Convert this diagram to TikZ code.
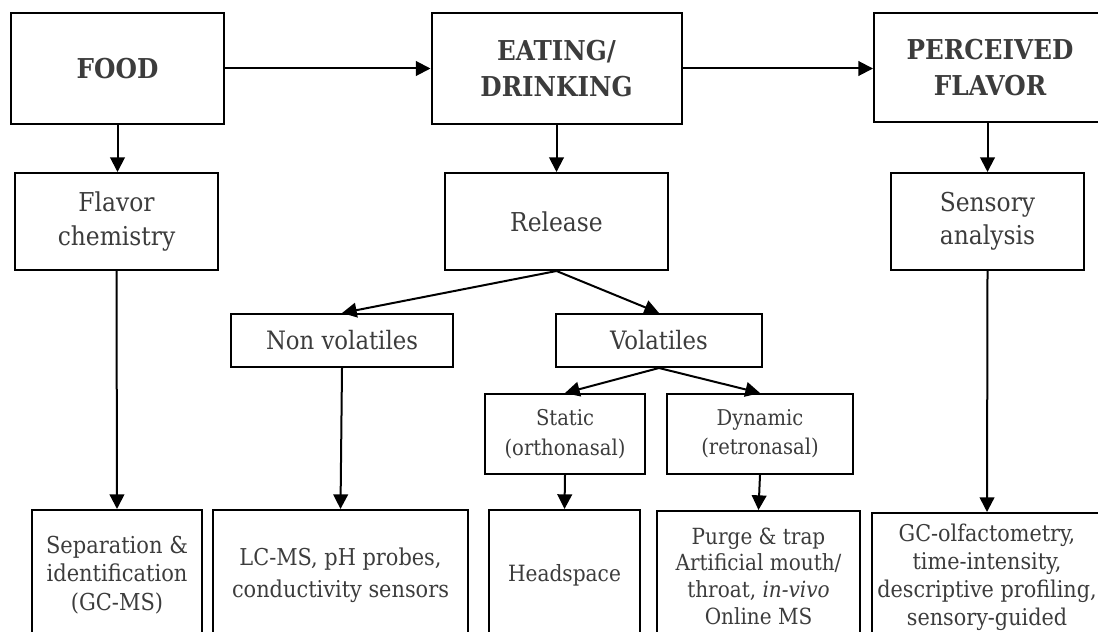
\documentclass[tikz,border=0pt]{standalone}
\usepackage{fontspec}
\setmainfont{DejaVu Serif Condensed}
\usetikzlibrary{arrows.meta}
\definecolor{txt}{RGB}{60,60,60}
\newcommand\ftitle{\fontsize{20.5pt}{27pt}\selectfont\bfseries}
\newcommand\fmid{\fontsize{19.5pt}{25pt}\selectfont}
\newcommand\fvol{\fontsize{19pt}{24pt}\selectfont}
\newcommand\fsm{\fontsize{16.3pt}{22pt}\selectfont}
\begin{document}
\begin{tikzpicture}[x=0.75pt,y=-0.75pt,
  box/.style={draw, line width=1.5pt, inner sep=0pt, text=txt, align=center},
  bx/.style 2 args={minimum width=#1*0.75pt, minimum height=#2*0.75pt},
  arr/.style={-{Triangle[length=11pt,width=11pt]}, line width=1.5pt}]
\useasboundingbox (0,0) rectangle (1098,631);
\clip (0,0) rectangle (1098,631);
% top row
\node[box, bx={213}{111}, font=\ftitle] (food) at (117.5,68.5) {FOOD};
\node[box, bx={250}{111}, font=\ftitle] (eat) at (556.5,68.5) {EATING/\\DRINKING};
\node[box, bx={232}{109}, font=\ftitle] (perc) at (990,67.5) {PERCEIVED\\FLAVOR};
% second row
\node[box, bx={203}{97}, font=\fmid] (flav) at (116.5,221.5) {Flavor\\chemistry};
\node[box, bx={223}{97}, font=\fmid] (rel) at (556.5,221.5) {Release};
\node[box, bx={193}{97}, font=\fmid] (sens) at (987.5,221.5) {Sensory\\analysis};
% third row
\node[box, bx={222}{53}, font=\fvol] (nonv) at (342,340.5) {Non volatiles};
\node[box, bx={206}{53}, font=\fvol] (vol) at (659,340.5) {Volatiles};
\node[box, bx={160}{80}, font=\fsm] (stat) at (565,434) {Static\\(orthonasal)};
\node[box, bx={186}{80}, font=\fsm] (dyn) at (760,434) {Dynamic\\(retronasal)};
% bottom row
\node[box, bx={170}{130}, font=\fontsize{17.5pt}{21.4pt}\selectfont] (sep) at (117,575) {Separation \&\\identification\\(GC-MS)};
\node[box, bx={255}{130}, font=\fontsize{17.4pt}{23.7pt}\selectfont] (lcms) at (340.5,575) {LC-MS, pH probes,\\conductivity sensors};
\node[box, bx={151}{130}, font=\fontsize{16.8pt}{22pt}\selectfont] (head) at (564.5,575) {Headspace};
\node[box, bx={203}{130}, font=\fontsize{16.7pt}{20pt}\selectfont] (purge) at (758.5,576) {Purge \& trap\\Artificial mouth/\\throat, \textit{in-vivo}\\Online MS};
\node[box, bx={230}{128}, font=\fontsize{17.3pt}{21pt}\selectfont] (gc) at (987,577) {GC-olfactometry,\\time-intensity,\\descriptive profiling,\\sensory-guided};
% connectors
\draw[arr] (food.east) -- (eat.west);
\draw[arr] (eat.east) -- (eat.east -| perc.west);
\draw[arr] (food.south) -- (food.south |- flav.north);
\draw[arr] (eat.south) -- (rel.north);
\draw[arr] (sens.north |- perc.south) -- (sens.north);
\draw[arr] (flav.south) -- (sep.north);
\draw[arr] (rel.south) -- (nonv.north);
\draw[arr] (rel.south) -- (vol.north);
\draw[arr] (nonv.south) -- (lcms.north);
\draw[arr] (vol.south) -- (stat.north);
\draw[arr] (vol.south) -- (dyn.north);
\draw[arr] (stat.south) -- (head.north);
\draw[arr] (dyn.south) -- (purge.north);
\draw[arr] (sens.south) -- (gc.north);
\end{tikzpicture}
\end{document}
